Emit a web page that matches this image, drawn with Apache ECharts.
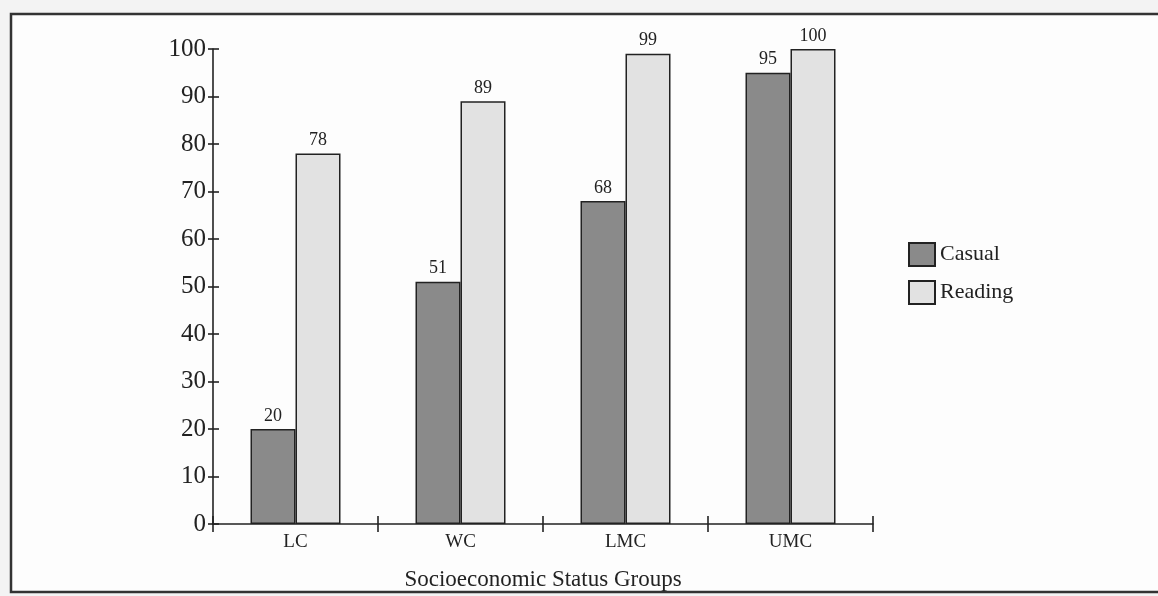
<!DOCTYPE html>
<html>
<head>
<meta charset="utf-8">
<script src="https://cdn.jsdelivr.net/npm/echarts@6/dist/echarts.min.js"></script>
<style>html,body{margin:0;padding:0;background:#f3f3f3;}#c{width:1158px;height:596px;}</style>
</head>
<body>
<div id="c"></div>
<script>
const categories = ['LC', 'WC', 'LMC', 'UMC'];
const casual = [20, 51, 68, 95];
const reading = [78, 89, 99, 100];
const yTicks = [0, 10, 20, 30, 40, 50, 60, 70, 80, 90, 100];

const font = 'Liberation Serif, Times New Roman, serif';
const chart = echarts.init(document.getElementById('c'));
const axisLineStyle = { color: '#222', width: 1.6 };
chart.setOption({
  backgroundColor: '#f3f3f3',
  animation: false,
  graphic: [{
    type: 'rect', z: -10, silent: true,
    shape: { x: 11, y: 14, width: 1160, height: 578 },
    style: { fill: '#fdfdfd', stroke: '#333', lineWidth: 2.5 }
  }],
  grid: { left: 213, right: 285, top: 49, bottom: 70 },
  legend: {
    orient: 'vertical', left: 903, top: 237,
    itemWidth: 26, itemGap: 13, itemHeight: 23,
    icon: 'rect',
    textStyle: { fontFamily: font, fontSize: 22, color: '#222' },
    data: ['Casual', 'Reading']
  },
  xAxis: [{
    type: 'category', data: categories, position: 'bottom',
    axisLine: { lineStyle: axisLineStyle },
    axisTick: { show: true, inside: false, length: 8, lineStyle: axisLineStyle },
    axisLabel: { fontFamily: font, fontSize: 19, color: '#222', margin: 9 },
    name: 'Socioeconomic Status Groups', nameLocation: 'middle', nameGap: 44,
    nameTextStyle: { fontFamily: font, fontSize: 23, color: '#222' }
  }, {
    type: 'category', data: categories, position: 'bottom',
    axisLine: { show: false },
    axisTick: { show: true, inside: true, length: 8, lineStyle: axisLineStyle },
    axisLabel: { show: false }
  }],
  yAxis: [{
    type: 'value', min: 0, max: 100, interval: 10, position: 'left',
    axisLine: { show: true, lineStyle: axisLineStyle },
    axisTick: { show: true, inside: false, length: 5, lineStyle: axisLineStyle },
    splitLine: { show: false },
    axisLabel: {
      fontFamily: font, fontSize: 25, color: '#222', margin: 7,
      formatter: v => yTicks.includes(v) ? String(v) : ''
    }
  }, {
    type: 'value', min: 0, max: 100, interval: 10, position: 'left', offset: 0,
    axisLine: { show: true, onZero: false, lineStyle: { color: 'rgba(0,0,0,0)', width: 1 } },
    axisTick: { show: true, inside: true, length: 6, lineStyle: axisLineStyle },
    splitLine: { show: false },
    axisLabel: { show: false }
  }],
  series: [{
    name: 'Casual', type: 'bar', data: casual,
    barWidth: 45, barGap: '0%',
    itemStyle: { color: '#8a8a8a', borderColor: '#222', borderWidth: 1.5 },
    label: { show: true, position: 'top', distance: 4, fontFamily: font, fontSize: 18, color: '#222' }
  }, {
    name: 'Reading', type: 'bar', data: reading,
    barWidth: 45, barGap: '0%',
    itemStyle: { color: '#e2e2e2', borderColor: '#222', borderWidth: 1.5 },
    label: { show: true, position: 'top', distance: 4, fontFamily: font, fontSize: 18, color: '#222' }
  }]
});
</script>
</body>
</html>
